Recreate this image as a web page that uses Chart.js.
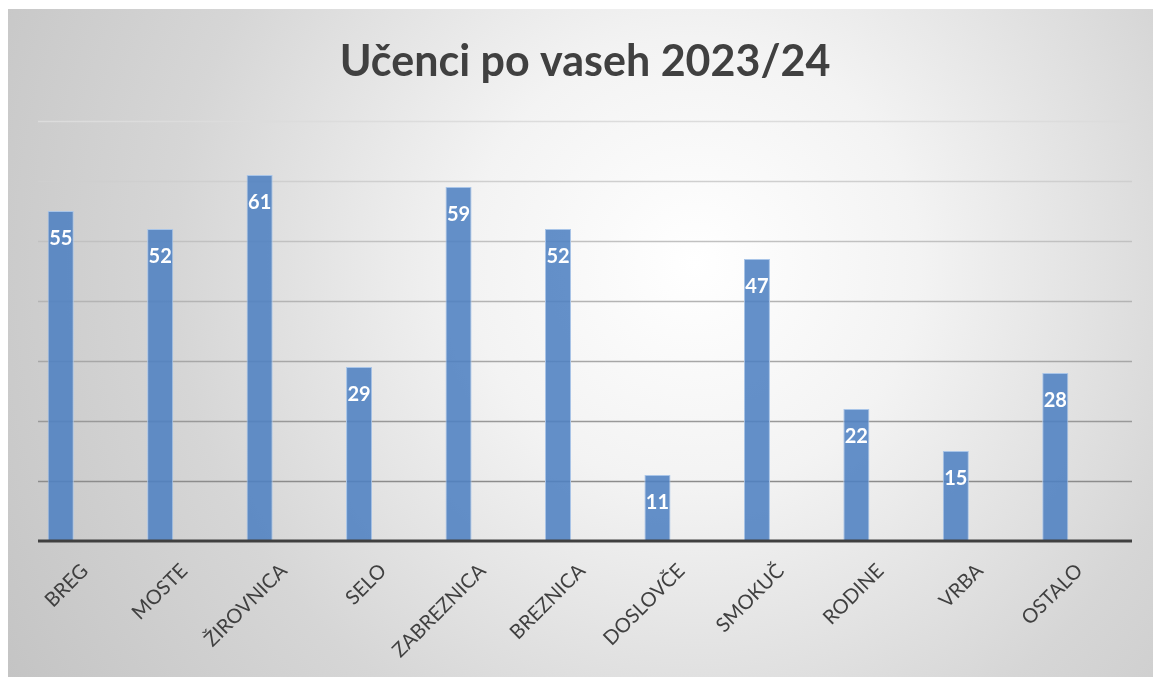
<!DOCTYPE html>
<html>
<head>
<meta charset="utf-8">
<script src="https://cdn.jsdelivr.net/npm/chart.js@4/dist/chart.umd.min.js"></script>
<style>
  body { margin: 0; background: #fff; }
  #box {
    position: absolute; left: 8px; top: 9px; width: 1145px; height: 668px;
    background: radial-gradient(circle farthest-corner at 60% 38%, #ffffff 0%, #f3f3f3 28%, #d6d6d6 65%, #c4c4c4 100%);
  }
</style>
</head>
<body>
<div id="box"><canvas id="chart" width="1145" height="668"></canvas></div>
<script>
const chartTitle = "Učenci po vaseh 2023/24";
const villages = ["BREG", "MOSTE", "ŽIROVNICA", "SELO", "ZABREZNICA", "BREZNICA", "DOSLOVČE", "SMOKUČ", "RODINE", "VRBA", "OSTALO"];
const pupils = [55, 52, 61, 29, 59, 52, 11, 47, 22, 15, 28];
const gridValues = [10, 20, 30, 40, 50, 60, 70];

// gridlines + axis line run a bit wider than the category band
const gridLeft = 30, gridRight = 1124;

const gridPlugin = {
  id: 'grid',
  beforeDatasetsDraw(chart) {
    const c = chart.ctx, y = chart.scales.y;
    c.save();
    gridValues.forEach((v, i) => {
      // lines fade from dark (bottom) to light (top)
      const t = i / (gridValues.length - 1);
      const g = Math.round(140 + t * 80);
      c.strokeStyle = `rgb(${g},${g},${g})`;
      c.lineWidth = 1.3;
      const py = Math.round(y.getPixelForValue(v)) + 0.5;
      c.beginPath();
      c.moveTo(gridLeft, py);
      c.lineTo(gridRight, py);
      c.stroke();
    });
    c.restore();
  },
  afterDatasetsDraw(chart) {
    const c = chart.ctx, y = chart.scales.y;
    c.save();
    // axis line
    c.strokeStyle = '#404040';
    c.lineWidth = 3;
    const py = y.getPixelForValue(0);
    c.beginPath();
    c.moveTo(gridLeft, py);
    c.lineTo(gridRight, py);
    c.stroke();
    // value labels inside bars
    c.fillStyle = '#ffffff';
    c.font = 'bold 20px Lato';
    c.textAlign = 'center';
    c.textBaseline = 'middle';
    chart.getDatasetMeta(0).data.forEach((bar, i) => {
      c.fillText(pupils[i], bar.x, bar.y + 28);
    });
    c.restore();
  },
  afterDraw(chart) {
    const c = chart.ctx;
    c.save();
    c.fillStyle = '#404040';
    c.font = 'bold 43px Lato';
    c.textAlign = 'center';
    c.textBaseline = 'middle';
    c.fillText(chartTitle, 577, 53);
    c.restore();
  }
};

new Chart(document.getElementById('chart'), {
  type: 'bar',
  data: {
    labels: villages,
    datasets: [{
      data: pupils,
      backgroundColor: 'rgba(79,129,193,0.88)',
      borderColor: '#a9c5e8',
      borderWidth: 1,
      borderSkipped: 'start',
      categoryPercentage: 1,
      barPercentage: 0.262
    }]
  },
  options: {
    responsive: false,
    animation: false,
    layout: { padding: { left: 3, right: 48, top: 112, bottom: 0 } },
    plugins: { legend: { display: false }, tooltip: { enabled: false }, title: { display: false } },
    scales: {
      x: {
        grid: { display: false },
        border: { display: false },
        afterFit(scale) { scale.height = 136; },
        ticks: {
          autoSkip: false,
          minRotation: 45,
          maxRotation: 45,
          labelOffset: 24,
          padding: 10,
          color: '#404040',
          font: { family: 'Lato', size: 20 }
        }
      },
      y: { display: false, min: 0, max: 70 }
    }
  },
  plugins: [gridPlugin]
});
</script>
</body>
</html>
